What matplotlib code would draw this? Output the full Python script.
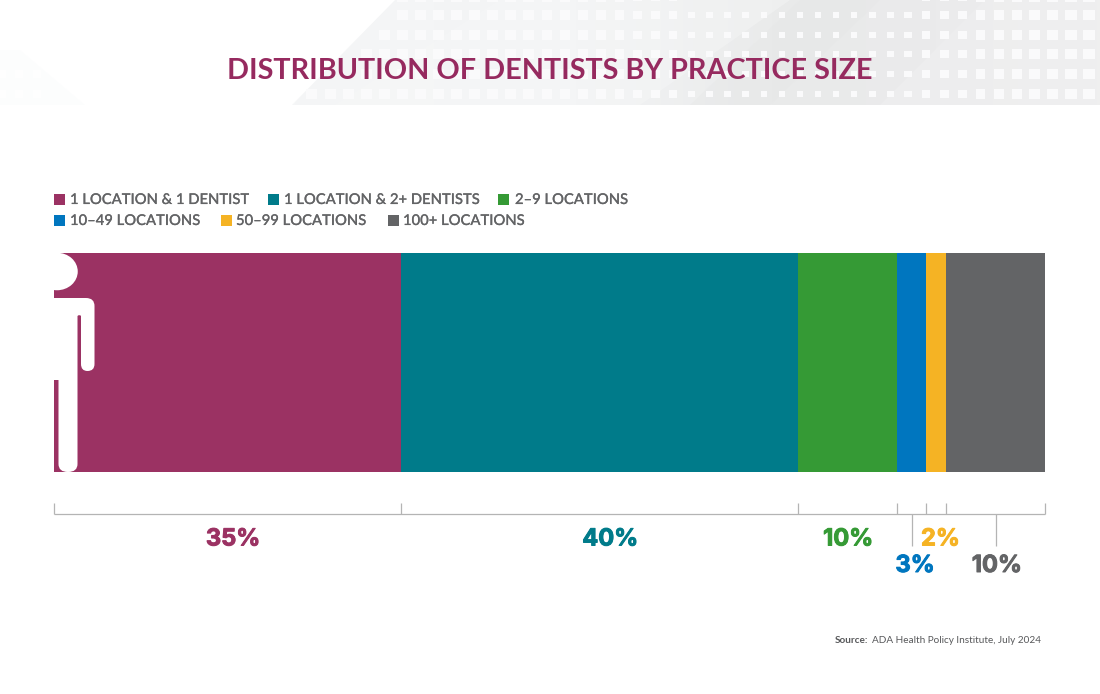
import numpy as np
import matplotlib
matplotlib.use("Agg")
import matplotlib.pyplot as plt
import matplotlib.patheffects as pe
from matplotlib.patches import Polygon, Rectangle, PathPatch, Ellipse
from matplotlib.path import Path
from matplotlib.collections import PatchCollection
from matplotlib.transforms import blended_transform_factory
from matplotlib.colors import LinearSegmentedColormap

categories = ["1 LOCATION & 1 DENTIST", "1 LOCATION & 2+ DENTISTS", "2–9 LOCATIONS",
              "10–49 LOCATIONS", "50–99 LOCATIONS", "100+ LOCATIONS"]
shares = [35, 40, 10, 3, 2, 10]
share_labels = ["35%", "40%", "10%", "3%", "2%", "10%"]
colors = ["#9b3263", "#007b8a", "#359a35", "#0076bf", "#f5b324", "#636466"]
title = "DISTRIBUTION OF DENTISTS BY PRACTICE SIZE"

W, H = 1100, 694
fig = plt.figure(figsize=(W/100, H/100), dpi=100, facecolor="white")
px = fig.add_axes([0, 0, 1, 1], zorder=0)
px.set_xlim(0, W); px.set_ylim(H, 0); px.axis("off")

# header decoration
cmap = LinearSegmentedColormap.from_list("hdr", [(0, "#f5f6f7"), (0.35, "#f3f4f5"), (0.62, "#e9eaea"),
                                                 (0.8, "#ebebec"), (1, "#eeeeee")])
grad = np.linspace(0, 1, 256)[None, :]
im = px.imshow(grad, extent=(292, W, 105, 0), cmap=cmap, aspect="auto", zorder=1, vmin=0, vmax=1)
edge = Polygon([(292, 105), (395, 0), (W, 0), (W, 105)], closed=True, transform=px.transData, fc="none", ec="none")
px.add_patch(edge)
im.set_clip_path(edge)
px.set_xlim(0, W); px.set_ylim(H, 0)
px.add_patch(Polygon([(690, 105), (800, 0), (880, 0), (770, 105)], fc="#e4e5e5", alpha=.3, ec="none", zorder=1.1))
px.add_patch(Polygon([(880, 105), (985, 0), (W, 0), (W, 105)], fc="#f2f2f3", alpha=.4, ec="none", zorder=1.1))
px.add_patch(Polygon([(335, 105), (640, 105), (790, 0), (500, 0)], fc="#f7f8f8", alpha=.4, ec="none", zorder=1.1))
rows = [-3, 15, 35, 54, 74, 94]
starts = [400, 393, 374, 356, 356, 304]
dots = []
for r, s in zip(rows, starts):
    for x in np.arange(1089, s - 1, -18.07):
        size = 5.5 + 6.5 * min(abs(x - 815) / 274, 1) if x > 815 else 5.5 + 5.5 * min((815 - x) / 300, 1)
        h = size * 0.9 if size < 8 else min(size, 10.5)
        dots.append(Rectangle((x - size/2, r - h/2), size, h))
px.add_collection(PatchCollection(dots, fc="#fafafb", ec="none", zorder=1.2))
px.add_patch(Polygon([(0, 50), (20, 50), (85, 105), (0, 105)], fc="#fbfcfd", ec="none", alpha=.6, zorder=1.1))
for r in [74, 94]:
    for x in [2, 19, 37]:
        px.add_patch(Rectangle((x - 4, r - 4), 8, 8, fc="#fefefe", ec="none", zorder=1.2))

px.text(550, 71, title, ha="center", va="center", fontsize=20.7, color="#962a5f",
        family="Lato", fontweight="bold", zorder=3)

# legend
leg_x = [(54, 70), (268, 284), (498, 515), (54, 70), (221, 236), (388, 403)]
leg_y = [199, 199, 199, 220, 220, 220]
for c, name, (sx, tx), y in zip(colors, categories, leg_x, leg_y):
    px.add_patch(Rectangle((sx, y - 5.5), 11, 11, fc=c, ec="none", zorder=3))
    px.text(tx, y + 1, name, ha="left", va="center", fontsize=10.65, color="#636466", family="Lato",
            fontweight="medium", zorder=3,
            path_effects=[pe.withStroke(linewidth=0.12, foreground="#636466")])

# stacked bar
ax = fig.add_axes([54/W, 1 - 472/H, (1045.4-54)/W, (472-253)/H], zorder=1)
ax.set_xlim(0, sum(shares)); ax.set_ylim(0, 1); ax.axis("off")
left = 0
lefts = []
for v, c in zip(shares, colors):
    ax.barh(0.5, v, height=1, left=left, color=c, linewidth=0)
    lefts.append(left)
    left += v
lefts = np.array(lefts); mids = lefts + np.array(shares) / 2

# pictogram
k = Path.CURVE3; m = Path.MOVETO; l = Path.LINETO
ov = fig.add_axes([0, 0, 1, 1], zorder=2)
ov.set_xlim(0, W); ov.set_ylim(H, 0); ov.axis("off")
verts = [(54, 298), (86, 298), (94.5, 298), (94.5, 306), (94.5, 364), (94.5, 371), (87.5, 371),
         (81, 371), (81, 364), (81, 316), (79.5, 314), (77.5, 316), (77.5, 464), (77.5, 472),
         (68, 472), (58.5, 472), (58.5, 464), (58.5, 380), (54, 380), (54, 298)]
codes = [m, l, k, k, l, k, k, k, k, l, k, k, l, k, k, k, k, l, l, l]
ov.add_patch(PathPatch(Path(verts, codes), fc="white", ec="none"))
head = Ellipse((57, 271.5), 41.5, 37.5, fc="white", ec="none")
ov.add_patch(head)
head.set_clip_path(Rectangle((54, 250), 40, 45, transform=ov.transData))

# brackets and labels
tr = blended_transform_factory(ax.transData, px.transData)
line = dict(color="#b4b4b4", lw=0.9, transform=tr, solid_capstyle="butt", zorder=2)
px.plot([0, sum(shares)], [514, 514], **line)
for t in list(lefts) + [sum(shares)]:
    px.plot([t, t], [503, 514], **line)
for i in (3, 5):
    px.plot([mids[i], mids[i]], [514, 546], **line)
dx = [0.56, 1.1, 0.1, 0.35, 0.4, 0.1]
ly = [539.5, 539.5, 539.5, 566, 539.5, 566]
for lab, c, mid, d, y in zip(share_labels, colors, mids, dx, ly):
    px.text(mid + d, y, lab, transform=tr, ha="center", va="center", fontsize=17, color=c,
            family="Inter", fontweight="bold", zorder=3,
            path_effects=[pe.withStroke(linewidth=0.7, foreground=c)])

px.text(835, 640.5, "Source:", ha="left", va="center", fontsize=7.2, color="#58595b",
        family="Lato", fontweight="bold", zorder=3)
px.text(872, 640.5, "ADA Health Policy Institute, July 2024", ha="left", va="center", fontsize=7.2,
        color="#58595b", family="Lato", zorder=3)

fig.savefig("out.png", dpi=100, facecolor="white")
